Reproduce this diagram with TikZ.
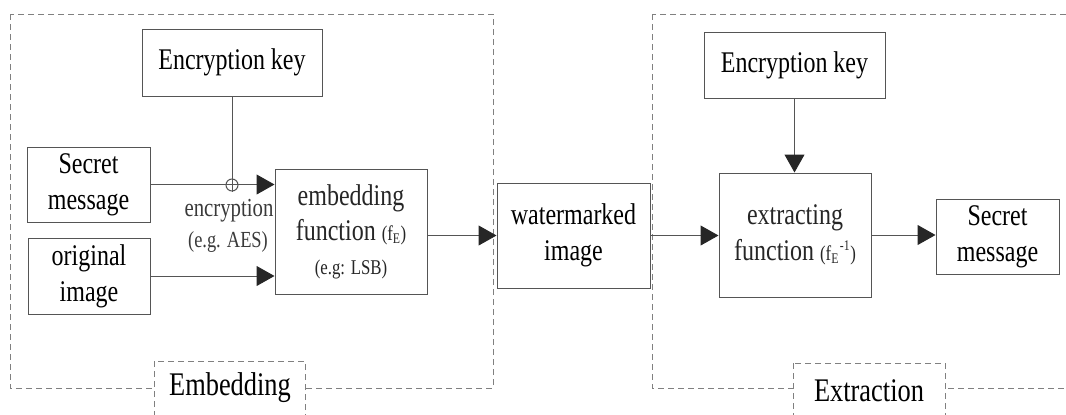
\documentclass[tikz,border=0pt]{standalone}
\usepackage{fontspec}
\setmainfont[FakeStretch=0.8]{Liberation Serif}
\usetikzlibrary{arrows.meta}
\definecolor{linegray}{HTML}{555555}
\definecolor{dashgray}{HTML}{808080}
\definecolor{notegray}{HTML}{3a3a3a}
\definecolor{boxtext}{HTML}{262626}
\begin{document}
\begin{tikzpicture}[x=1pt,y=-1pt,
  box/.style={draw=linegray, line width=1pt, fill=white, align=center, inner sep=0pt,
    font=\fontsize{30}{36}\selectfont, text=black},
  conn/.style={draw=linegray, line width=1pt},
  arr/.style={conn, -{Triangle[length=18pt,width=20pt,color=black!85]}},
  frame/.style={draw=dashgray, line width=1pt, dash pattern=on 6pt off 4pt},
  note/.style={text=notegray, inner sep=0pt, align=center},
  tag/.style={inner sep=0pt, font=\fontsize{33}{38}\selectfont, text=black}
]
\useasboundingbox (0,0) rectangle (1066,415);
% frames
\draw[frame] (10,14) rectangle (493,388);
\draw[frame] (652,14) rectangle (1090,388);
\draw[frame,fill=white] (154,361) rectangle (305,430);
\draw[frame,fill=white] (793,363) rectangle (945,430);
\node[tag] (embtag) at (230,388) {Embedding};
\node[tag] (exttag) at (869,391) {Extraction};
% left part
\node[box, minimum width=180, minimum height=67] (keyL) at (232,62.5) {Encryption key};
\node[box, minimum width=123, minimum height=75] (secret) at (88.5,184.5) {Secret\\message};
\node[box, minimum width=122, minimum height=76] (orig) at (89,276) {original\\image};
\node[box, minimum width=152, minimum height=125, text=boxtext] (emb) at (351,231.5)
  {embedding\\[-1pt]function {\fontsize{21}{24}\selectfont(f\textsubscript{E})}\\[-2pt]
   {\fontsize{21}{24}\selectfont (e.g: LSB)}};
\node[draw=linegray, line width=1pt, circle, inner sep=0pt, minimum size=12pt] (xor) at (232,185) {};
\node[note, font=\fontsize{26}{30}\selectfont] (enc) at (229,211) {encryption};
\node[note, font=\fontsize{23}{28}\selectfont] (aes) at (228,242) {(e.g. AES)};
% middle
\node[box, minimum width=153, minimum height=105] (wm) at (573.5,235.5) {watermarked\\image};
% right part
\node[box, minimum width=181, minimum height=66] (keyR) at (794.5,65) {Encryption key};
\node[box, minimum width=152, minimum height=124, text=boxtext] (ext) at (795,235)
  {extracting\\function {\fontsize{21}{24}\selectfont(f\textsubscript{E}\kern1pt\raisebox{3pt}{\textsuperscript{-1}})}};
\node[box, minimum width=123, minimum height=75] (secR) at (997.5,236.5) {Secret\\message};
% connectors
\draw[arr] (secret.east) -- (secret.east -| emb.west);
\draw[conn] (keyL.south) -- (xor.south);
\draw[arr] (orig.east) -- (orig.east -| emb.west);
\draw[arr] (emb.east |- wm.west) -- (wm.west);
\draw[arr] (wm.east) -- (wm.east -| ext.west);
\draw[arr] (keyR.south) -- (keyR.south |- ext.north);
\draw[arr] (ext.east) -- (ext.east -| secR.west);
\end{tikzpicture}
\end{document}
